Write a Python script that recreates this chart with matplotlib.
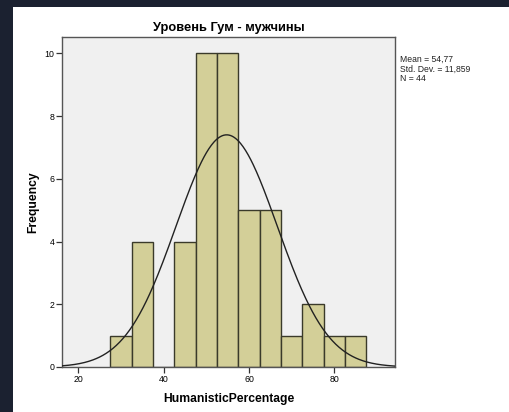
import numpy as np
import matplotlib.pyplot as plt
from matplotlib.patches import Rectangle

plt.rcParams['font.family'] = ['Liberation Sans', 'DejaVu Sans']

# histogram of HumanisticPercentage (bin width 5)
bin_edges = [27.5, 32.5, 37.5, 42.5, 47.5, 52.5, 57.5, 62.5, 67.5, 72.5, 77.5, 82.5, 87.5]
counts = [1, 4, 0, 4, 10, 10, 5, 5, 1, 2, 1, 1]
mean_val = 54.77
std_val = 11.859
n_val = 44

fig = plt.figure(figsize=(5.09, 4.12), dpi=100, facecolor="white")
# dark frame on the left and top
dark = "#1b2130"
fig.patches.append(Rectangle((0, 0), 13 / 509, 1, transform=fig.transFigure,
                             facecolor=dark, edgecolor="none", zorder=-10))
fig.patches.append(Rectangle((0, 1 - 7 / 412), 1, 7 / 412, transform=fig.transFigure,
                             facecolor=dark, edgecolor="none", zorder=-10))

ax = fig.add_axes([62 / 509, 45 / 412, 333 / 509, 330 / 412])
ax.set_facecolor("#f0f0f0")

lefts = bin_edges[:-1]
widths = np.diff(bin_edges)
ax.bar(lefts, counts, width=widths, align="edge", color="#d3cf98",
       edgecolor="#3a3a2a", linewidth=1.0, zorder=2)

# normal curve scaled to counts
xs = np.linspace(16.2, 94.2, 400)
ys = n_val * 5 / (std_val * np.sqrt(2 * np.pi)) * np.exp(-0.5 * ((xs - mean_val) / std_val) ** 2)
ax.plot(xs, ys, color="#222222", linewidth=1.0, zorder=3)

ax.set_xlim(16.2, 94.2)
ax.set_ylim(0, 10.52)
ax.set_xticks([20, 40, 60, 80])
ax.set_yticks([0, 2, 4, 6, 8, 10])
ax.tick_params(axis="both", labelsize=6.3, length=4, width=0.9, color="#333333", pad=1.5)
for sp in ax.spines.values():
    sp.set_color("#555555")
    sp.set_linewidth(1.0)

ax.set_title("Уровень Гум - мужчины", fontsize=9.3, fontweight="bold", pad=4)
ax.set_xlabel("HumanisticPercentage", fontsize=8.7, fontweight="bold", labelpad=7)
ax.set_ylabel("Frequency", fontsize=8.7, fontweight="bold", labelpad=4)

fig.text(400 / 509, 1 - 55 / 412,
         "Mean = %s\nStd. Dev. = %s\nN = %d" % (str(mean_val).replace(".", ","),
                                                 str(std_val).replace(".", ","), n_val),
         fontsize=6.2, va="top", ha="left", linespacing=1.1, color="#222222")

fig.savefig("out.png", dpi=100, facecolor=fig.get_facecolor())
